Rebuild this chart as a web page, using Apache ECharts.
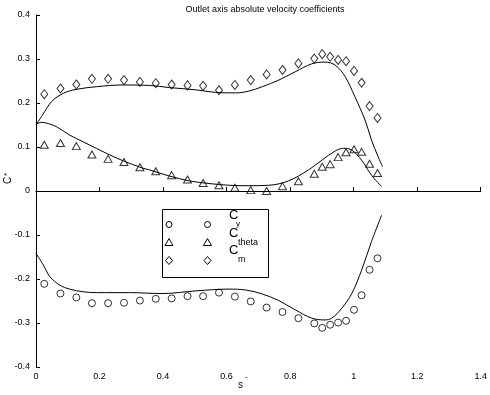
<!DOCTYPE html>
<html><head><meta charset="utf-8">
<script src="https://cdn.jsdelivr.net/npm/echarts@6/dist/echarts.min.js"></script>
<style>html,body{margin:0;padding:0;background:#fff}#c{width:490px;height:395px}</style>
</head><body><div id="c"></div>
<script>
// measured points (s-)
var sPts = [0.026,0.077,0.127,0.176,0.227,0.277,0.327,0.377,0.427,0.477,0.526,0.576,0.626,0.676,0.726,0.776,0.826,0.876,0.901,0.926,0.951,0.976,1.001,1.025,1.050,1.075];
var cyPts = [-0.211,-0.233,-0.242,-0.255,-0.255,-0.254,-0.249,-0.245,-0.244,-0.239,-0.239,-0.231,-0.240,-0.251,-0.265,-0.275,-0.289,-0.301,-0.311,-0.304,-0.299,-0.295,-0.270,-0.237,-0.179,-0.153];
var cthetaPts = [0.105,0.109,0.102,0.083,0.073,0.066,0.054,0.045,0.036,0.026,0.018,0.013,0.0075,0.002,0.000,0.011,0.022,0.039,0.055,0.061,0.077,0.088,0.095,0.089,0.062,0.041];
var cmPts = [0.220,0.233,0.242,0.255,0.255,0.252,0.248,0.245,0.242,0.240,0.239,0.229,0.241,0.252,0.265,0.275,0.290,0.301,0.311,0.305,0.298,0.295,0.273,0.246,0.193,0.166];

// computed curves
var cmLineX = [0.0,0.02,0.049,0.086,0.127,0.19,0.273,0.357,0.42,0.503,0.566,0.628,0.67,0.712,0.764,0.816,0.868,0.91,0.942,0.973,1.004,1.036,1.056,1.077,1.091];
var cmLineY = [0.150,0.172,0.203,0.222,0.231,0.237,0.241,0.240,0.235,0.230,0.224,0.223,0.227,0.237,0.252,0.271,0.289,0.293,0.286,0.260,0.214,0.161,0.116,0.078,0.055];
var ctLineX = [0.0,0.018,0.04,0.065,0.106,0.148,0.19,0.232,0.273,0.336,0.357,0.42,0.482,0.545,0.608,0.67,0.733,0.795,0.858,0.9,0.942,0.968,0.994,1.025,1.056,1.088];
var ctLineY = [0.152,0.156,0.153,0.146,0.127,0.112,0.097,0.082,0.069,0.052,0.048,0.034,0.023,0.017,0.013,0.012,0.013,0.023,0.048,0.070,0.091,0.097,0.093,0.070,0.036,0.010];
var cyLineX = [0.0,0.023,0.044,0.075,0.106,0.148,0.19,0.294,0.399,0.503,0.608,0.66,0.712,0.764,0.816,0.868,0.91,0.931,0.962,0.994,1.025,1.056,1.088];
var cyLineY = [-0.142,-0.168,-0.195,-0.214,-0.223,-0.229,-0.231,-0.231,-0.233,-0.227,-0.223,-0.225,-0.234,-0.249,-0.270,-0.289,-0.293,-0.289,-0.267,-0.233,-0.180,-0.115,-0.055];

var titleText = 'Outlet axis absolute velocity coefficients';
var legendNames = ['y','theta','m'];

function zip(a,b){return a.map(function(v,i){return [v,b[i]];});}
var FONT = 'Liberation Sans, Arial, sans-serif';
var chart = echarts.init(document.getElementById('c'), null, {renderer:'canvas'});
function fmt(v){ if (Math.abs(v)<1e-9) return '0'; var r=Math.round(v*10)/10; return (r%1===0)? String(r) : r.toFixed(1);}
function markerSeries(name,sym,size,ys){
  return {name:name,type:'scatter',data:zip(sPts,ys),symbol:sym,symbolSize:size,
    itemStyle:{color:'rgba(0,0,0,0)',borderColor:'#000',borderWidth:1},z:3,silent:true};
}
function lineSeries(xs,ys){
  return {type:'line',data:zip(xs,ys),showSymbol:false,smooth:0.35,lineStyle:{color:'#000',width:1},z:2,silent:true};
}
var lx=162, ly=209;
chart.setOption({
  animation:false,
  backgroundColor:'#fff',
  title:{text:titleText,left:260,textAlign:'center',top:0,textStyle:{fontFamily:FONT,fontSize:9,fontWeight:'normal',color:'#000'}},
  grid:{left:36,right:7,top:15,bottom:28},
  xAxis:{type:'value',min:0,max:1.4,interval:0.2,
    axisLine:{lineStyle:{color:'#000',width:1}},
    axisTick:{inside:true,length:4,lineStyle:{color:'#000'}},
    axisLabel:{color:'#000',fontFamily:FONT,fontSize:9,margin:5,formatter:fmt},
    splitLine:{show:false}},
  yAxis:{type:'value',min:-0.4,max:0.4,interval:0.1,
    axisLine:{show:true,lineStyle:{color:'#000',width:1}},
    axisTick:{show:true,inside:true,length:4,lineStyle:{color:'#000'}},
    axisLabel:{color:'#000',fontFamily:FONT,fontSize:9,margin:6,formatter:fmt},
    splitLine:{show:false}},
  series:[
    lineSeries(cmLineX,cmLineY),
    lineSeries(ctLineX,ctLineY),
    lineSeries(cyLineX,cyLineY),
    markerSeries('Cy','circle',7,cyPts),
    markerSeries('Ctheta','triangle',[8,7],cthetaPts),
    markerSeries('Cm','diamond',[7,9],cmPts)
  ],
  graphic:[
    {type:'rect',shape:{x:lx+0.5,y:ly+0.5,width:106,height:68},style:{fill:'#fff',stroke:'#000',lineWidth:1},z:10},
    {type:'circle',shape:{cx:169,cy:224.5,r:3},style:{fill:'none',stroke:'#000',lineWidth:1},z:11},
    {type:'circle',shape:{cx:207.5,cy:224.5,r:3},style:{fill:'none',stroke:'#000',lineWidth:1},z:11},
    {type:'polygon',shape:{points:[[169,238.5],[173,245.5],[165,245.5]]},style:{fill:'none',stroke:'#000',lineWidth:1},z:11},
    {type:'polygon',shape:{points:[[207.5,238.5],[211.5,245.5],[203.5,245.5]]},style:{fill:'none',stroke:'#000',lineWidth:1},z:11},
    {type:'polygon',shape:{points:[[169,256.5],[172.5,260.5],[169,264.5],[165.5,260.5]]},style:{fill:'none',stroke:'#000',lineWidth:1},z:11},
    {type:'polygon',shape:{points:[[207.5,256.5],[211,260.5],[207.5,264.5],[204,260.5]]},style:{fill:'none',stroke:'#000',lineWidth:1},z:11},
    {type:'text',x:229,y:209,style:{text:'C',font:'13px '+FONT,fill:'#000'},z:11},
    {type:'text',x:236,y:220,style:{text:legendNames[0],font:'8px '+FONT,fill:'#000'},z:11},
    {type:'text',x:229,y:227,style:{text:'C',font:'13px '+FONT,fill:'#000'},z:11},
    {type:'text',x:238,y:238,style:{text:legendNames[1],font:'9px '+FONT,fill:'#000'},z:11},
    {type:'text',x:229,y:244,style:{text:'C',font:'13px '+FONT,fill:'#000'},z:11},
    {type:'text',x:238,y:255,style:{text:legendNames[2],font:'9px '+FONT,fill:'#000'},z:11},
    {type:'text',x:3,y:184,rotation:Math.PI/2,style:{text:'C',font:'10px '+FONT,fill:'#000'}},
    {type:'text',x:3,y:176,rotation:Math.PI/2,style:{text:'*',font:'8px '+FONT,fill:'#000'}},
    {type:'text',x:238,y:380,style:{text:'s',font:'10px '+FONT,fill:'#000'}},
    {type:'text',x:245,y:373,style:{text:'-',font:'8px '+FONT,fill:'#000'}}
  ]
});
</script></body></html>
